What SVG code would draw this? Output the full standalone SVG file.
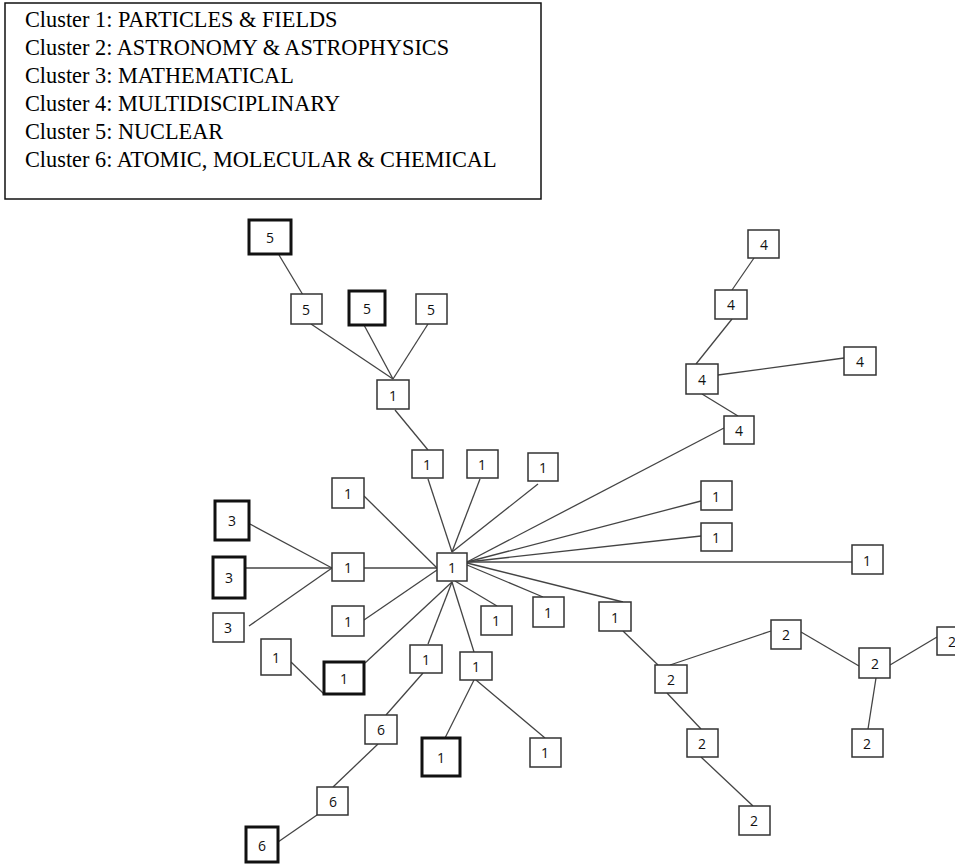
<svg xmlns="http://www.w3.org/2000/svg" width="955" height="865" viewBox="0 0 955 865">
<style>
.bg{fill:#fff}
.lg{fill:#fff;stroke:#111;stroke-width:1.5}
.lt{font-family:"Liberation Serif","Times New Roman",serif;font-size:22.3px;fill:#000}
.e line{stroke:#444;stroke-width:1.3}
.n rect{fill:#fff;stroke:#333;stroke-width:1.5}
.t rect{fill:#fff;stroke:#111;stroke-width:3}
.n text,.t text{font-family:"Open Sans","Liberation Sans",sans-serif;font-size:14px;fill:#111;text-anchor:middle;dominant-baseline:central}
</style>
<rect class="bg" x="0" y="0" width="955" height="865"/>
<g id="legend">
<rect class="lg" x="5" y="3" width="536" height="196"/>
<text class="lt" x="25" y="27">Cluster 1: PARTICLES &amp; FIELDS</text>
<text class="lt" x="25" y="55">Cluster 2: ASTRONOMY &amp; ASTROPHYSICS</text>
<text class="lt" x="25" y="83">Cluster 3: MATHEMATICAL</text>
<text class="lt" x="25" y="111">Cluster 4: MULTIDISCIPLINARY</text>
<text class="lt" x="25" y="139">Cluster 5: NUCLEAR</text>
<text class="lt" x="25" y="167">Cluster 6: ATOMIC, MOLECULAR &amp; CHEMICAL</text>
</g>
<g id="connectors" class="e">
<line x1="279" y1="255" x2="303" y2="295"/>
<line x1="311" y1="324" x2="393" y2="379"/>
<line x1="364" y1="325" x2="393" y2="379"/>
<line x1="428" y1="324" x2="393" y2="379"/>
<line x1="395" y1="410" x2="428" y2="450"/>
<line x1="428" y1="479" x2="452" y2="552"/>
<line x1="480" y1="479" x2="452" y2="552"/>
<line x1="538" y1="484" x2="452" y2="552"/>
<line x1="724" y1="428" x2="467" y2="562"/>
<line x1="701" y1="501" x2="467" y2="562"/>
<line x1="701" y1="536" x2="467" y2="562"/>
<line x1="852" y1="562" x2="467" y2="562"/>
<line x1="623" y1="602" x2="467" y2="563"/>
<line x1="543" y1="597" x2="467" y2="565"/>
<line x1="497" y1="606" x2="455" y2="581"/>
<line x1="365" y1="663" x2="452" y2="582"/>
<line x1="428" y1="644" x2="452" y2="582"/>
<line x1="474" y1="652" x2="452" y2="582"/>
<line x1="364" y1="496" x2="437" y2="568"/>
<line x1="364" y1="568" x2="437" y2="568"/>
<line x1="364" y1="620" x2="437" y2="570"/>
<line x1="250" y1="524" x2="332" y2="568"/>
<line x1="245" y1="568" x2="332" y2="568"/>
<line x1="249" y1="626" x2="332" y2="568"/>
<line x1="291" y1="662" x2="324" y2="694"/>
<line x1="423" y1="673" x2="386" y2="715"/>
<line x1="378" y1="744" x2="333" y2="787"/>
<line x1="317" y1="815" x2="278" y2="842"/>
<line x1="474" y1="680" x2="445" y2="738"/>
<line x1="476" y1="680" x2="545" y2="738"/>
<line x1="623" y1="631" x2="658" y2="665"/>
<line x1="670" y1="665" x2="771" y2="631"/>
<line x1="801" y1="632" x2="859" y2="666"/>
<line x1="890" y1="665" x2="937" y2="637"/>
<line x1="876" y1="678" x2="868" y2="729"/>
<line x1="667" y1="693" x2="701" y2="729"/>
<line x1="701" y1="757" x2="753" y2="806"/>
<line x1="754" y1="258" x2="732" y2="290"/>
<line x1="732" y1="319" x2="696" y2="364"/>
<line x1="718" y1="375" x2="844" y2="358"/>
<line x1="702" y1="394" x2="738" y2="416"/>
</g>
<g id="n5a" class="t"><rect x="249" y="220" width="42" height="34"/><text x="270" y="237">5</text></g>
<g id="n5b" class="n"><rect x="291" y="294" width="31" height="30"/><text x="306" y="309">5</text></g>
<g id="n5c" class="t"><rect x="349" y="291" width="36" height="34"/><text x="367" y="308">5</text></g>
<g id="n5d" class="n"><rect x="416" y="294" width="31" height="30"/><text x="431" y="309">5</text></g>
<g id="n1a" class="n"><rect x="377" y="380" width="32" height="29"/><text x="393" y="395">1</text></g>
<g id="n1b" class="n"><rect x="412" y="450" width="31" height="28"/><text x="427" y="464">1</text></g>
<g id="n1c" class="n"><rect x="467" y="450" width="31" height="28"/><text x="482" y="464">1</text></g>
<g id="n1d" class="n"><rect x="528" y="453" width="30" height="28"/><text x="543" y="467">1</text></g>
<g id="n1e" class="n"><rect x="332" y="478" width="32" height="30"/><text x="348" y="493">1</text></g>
<g id="hub" class="n"><rect x="437" y="553" width="30" height="28"/><text x="452" y="567">1</text></g>
<g id="n3a" class="t"><rect x="215" y="501" width="34" height="39"/><text x="232" y="520">3</text></g>
<g id="n3b" class="t"><rect x="213" y="557" width="32" height="41"/><text x="229" y="577">3</text></g>
<g id="n3c" class="n"><rect x="213" y="613" width="31" height="29"/><text x="228" y="627">3</text></g>
<g id="n1f" class="n"><rect x="332" y="553" width="32" height="28"/><text x="348" y="567">1</text></g>
<g id="n1g" class="n"><rect x="332" y="606" width="32" height="30"/><text x="348" y="621">1</text></g>
<g id="n1h" class="n"><rect x="261" y="639" width="30" height="36"/><text x="276" y="657">1</text></g>
<g id="n1i" class="t"><rect x="324" y="662" width="40" height="32"/><text x="344" y="678">1</text></g>
<g id="n1j" class="n"><rect x="410" y="645" width="32" height="28"/><text x="426" y="659">1</text></g>
<g id="n1k" class="n"><rect x="460" y="652" width="32" height="28"/><text x="476" y="666">1</text></g>
<g id="n1l" class="n"><rect x="481" y="606" width="31" height="29"/><text x="496" y="620">1</text></g>
<g id="n1m" class="n"><rect x="533" y="597" width="31" height="30"/><text x="548" y="612">1</text></g>
<g id="n1n" class="n"><rect x="599" y="602" width="32" height="29"/><text x="615" y="617">1</text></g>
<g id="n6a" class="n"><rect x="365" y="715" width="32" height="29"/><text x="381" y="729">6</text></g>
<g id="n6b" class="n"><rect x="317" y="787" width="31" height="28"/><text x="333" y="801">6</text></g>
<g id="n6c" class="t"><rect x="246" y="827" width="32" height="35"/><text x="262" y="845">6</text></g>
<g id="n1o" class="t"><rect x="422" y="738" width="38" height="38"/><text x="441" y="757">1</text></g>
<g id="n1p" class="n"><rect x="530" y="738" width="31" height="29"/><text x="545" y="752">1</text></g>
<g id="n2a" class="n"><rect x="655" y="665" width="32" height="28"/><text x="671" y="679">2</text></g>
<g id="n2b" class="n"><rect x="771" y="620" width="30" height="29"/><text x="786" y="634">2</text></g>
<g id="n2c" class="n"><rect x="859" y="648" width="31" height="30"/><text x="875" y="663">2</text></g>
<g id="n2d" class="n"><rect x="937" y="627" width="31" height="28"/><text x="952" y="641">2</text></g>
<g id="n2e" class="n"><rect x="852" y="729" width="31" height="28"/><text x="867" y="743">2</text></g>
<g id="n2f" class="n"><rect x="687" y="729" width="31" height="28"/><text x="702" y="743">2</text></g>
<g id="n2g" class="n"><rect x="739" y="806" width="31" height="29"/><text x="754" y="820">2</text></g>
<g id="n4a" class="n"><rect x="748" y="230" width="31" height="28"/><text x="764" y="244">4</text></g>
<g id="n4b" class="n"><rect x="715" y="290" width="32" height="29"/><text x="731" y="304">4</text></g>
<g id="n4c" class="n"><rect x="686" y="364" width="32" height="30"/><text x="702" y="379">4</text></g>
<g id="n4d" class="n"><rect x="844" y="347" width="32" height="28"/><text x="860" y="361">4</text></g>
<g id="n4e" class="n"><rect x="724" y="416" width="30" height="28"/><text x="739" y="430">4</text></g>
<g id="n1q" class="n"><rect x="701" y="481" width="31" height="29"/><text x="716" y="496">1</text></g>
<g id="n1r" class="n"><rect x="701" y="523" width="31" height="28"/><text x="716" y="537">1</text></g>
<g id="n1s" class="n"><rect x="852" y="545" width="31" height="29"/><text x="867" y="560">1</text></g>
</svg>
